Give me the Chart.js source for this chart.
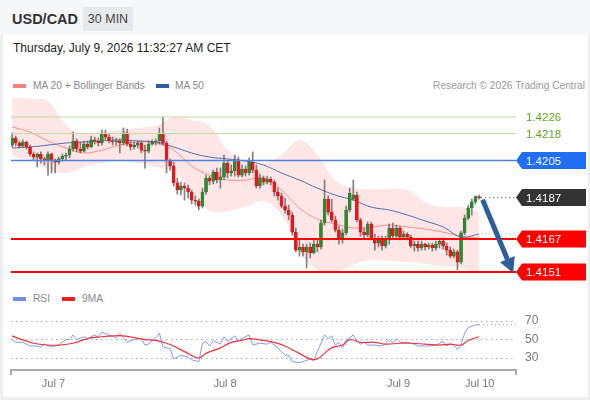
<!DOCTYPE html>
<html>
<head>
<meta charset="utf-8">
<script src="https://cdn.jsdelivr.net/npm/chart.js@4.4.1/dist/chart.umd.min.js"></script>
<style>
  body { margin: 0; width: 590px; height: 400px; overflow: hidden; background: #eceef0;
         font-family: "Liberation Sans", Arial, sans-serif; position: relative; }
  #card { position: absolute; left: 3px; top: 0; width: 585px; height: 397px; background: #fff; }
  #head { position: absolute; left: 0; top: 0; width: 590px; height: 35px; background: #f6f7f8; }
  #pair { position: absolute; left: 12px; top: 10px; font-size: 14.5px; line-height: 18px; font-weight: bold; color: #333; }
  #tf { position: absolute; left: 83px; top: 7px; width: 50px; height: 24px; line-height: 24px; text-align: center;
        background: #e8e9eb; font-size: 12.5px; color: #444; }
  #date { position: absolute; left: 13px; top: 40px; font-size: 12px; line-height: 16px; color: #222; }
  .leg { position: absolute; font-size: 10.2px; line-height: 12px; color: #888; white-space: nowrap; }
  .sw { position: absolute; width: 13px; height: 4px; }
  canvas { position: absolute; left: 0; }
</style>
</head>
<body>
<div id="card"></div>
<div id="head"></div>
<div id="pair">USD/CAD</div>
<div id="tf">30 MIN</div>
<div id="date">Thursday, July 9, 2026 11:32:27 AM CET</div>

<div class="sw" style="left:13px; top:84px; background:#f77f7f;"></div>
<div class="leg" style="left:33px; top:80px;">MA 20 + Bollinger Bands</div>
<div class="sw" style="left:156px; top:84px; background:#2f5fa3;"></div>
<div class="leg" style="left:175px; top:80px;">MA 50</div>
<div class="leg" style="right:5px; top:80px; color:#999;">Research © 2026 Trading Central</div>

<div class="sw" style="left:13px; top:297px; background:#6d8fe8;"></div>
<div class="leg" style="left:33px; top:293px;">RSI</div>
<div class="sw" style="left:62px; top:297px; background:#f01e1e;"></div>
<div class="leg" style="left:82px; top:293px;">9MA</div>

<canvas id="price" width="590" height="190" style="top:95px;"></canvas>
<canvas id="rsi" width="590" height="82" style="top:310px;"></canvas>

<script>
// 30 min candles, index 0 = first bar on the left
var opens = [1.42124,1.42158,1.42134,1.42120,1.42139,1.42115,1.42081,1.42066,1.42081,1.42057,
  1.42047,1.42081,1.42047,1.42042,1.42057,1.42071,1.42076,1.42105,1.42144,1.42105,
  1.42095,1.42129,1.42115,1.42149,1.42144,1.42134,1.42178,1.42163,1.42144,1.42139,
  1.42144,1.42134,1.42183,1.42129,1.42115,1.42124,1.42134,1.42100,1.42095,1.42129,
  1.42139,1.42144,1.42178,1.42134,1.42047,1.42023,1.41941,1.41907,1.41926,1.41916,
  1.41897,1.41858,1.41853,1.41829,1.41897,1.41965,1.41950,1.41994,1.41955,1.41970,
  1.42037,1.41989,1.41999,1.42052,1.41979,1.42008,1.41989,1.42042,1.42003,1.41926,
  1.41965,1.41945,1.41960,1.41945,1.41897,1.41878,1.41829,1.41810,1.41786,1.41703,
  1.41616,1.41631,1.41607,1.41631,1.41602,1.41645,1.41631,1.41747,1.41863,1.41800,
  1.41762,1.41713,1.41665,1.41699,1.41810,1.41863,1.41882,1.41762,1.41703,1.41689,
  1.41742,1.41674,1.41650,1.41665,1.41636,1.41665,1.41723,1.41684,1.41723,1.41679,
  1.41694,1.41679,1.41636,1.41645,1.41626,1.41645,1.41631,1.41640,1.41626,1.41645,
  1.41660,1.41636,1.41616,1.41587,1.41607,1.41558,1.41699,1.41771,1.41820,1.41849,
  1.41875];
var highs = [1.42183,1.42168,1.42144,1.42149,1.42144,1.42124,1.42091,1.42086,1.42091,1.42066,
  1.42091,1.42086,1.42057,1.42066,1.42081,1.42086,1.42120,1.42187,1.42154,1.42139,
  1.42144,1.42144,1.42168,1.42163,1.42158,1.42197,1.42197,1.42178,1.42163,1.42158,
  1.42154,1.42207,1.42202,1.42144,1.42139,1.42144,1.42144,1.42124,1.42144,1.42149,
  1.42154,1.42207,1.42260,1.42144,1.42057,1.42042,1.41965,1.41945,1.41941,1.41931,
  1.41907,1.41878,1.41863,1.41916,1.41979,1.41974,1.42003,1.42013,1.42013,1.42076,
  1.42052,1.42028,1.42076,1.42066,1.42028,1.42023,1.42062,1.42091,1.42028,1.41984,
  1.41974,1.41974,1.41970,1.41955,1.41916,1.41892,1.41868,1.41834,1.41800,1.41723,
  1.41665,1.41645,1.41645,1.41650,1.41665,1.41665,1.41762,1.41955,1.41878,1.41863,
  1.41781,1.41732,1.41718,1.41829,1.41916,1.41955,1.41897,1.41771,1.41723,1.41752,
  1.41752,1.41694,1.41684,1.41684,1.41684,1.41742,1.41747,1.41737,1.41732,1.41708,
  1.41699,1.41689,1.41660,1.41660,1.41660,1.41650,1.41650,1.41650,1.41660,1.41674,
  1.41674,1.41650,1.41631,1.41621,1.41616,1.41708,1.41786,1.41834,1.41863,1.41878,
  1.41882];
var lows = [1.42115,1.42120,1.42110,1.42115,1.42105,1.42071,1.42052,1.42018,1.42037,1.42028,
  1.41979,1.41989,1.41989,1.42032,1.42047,1.42052,1.42062,1.42095,1.42091,1.42086,
  1.42091,1.42105,1.42110,1.42129,1.42120,1.42124,1.42149,1.42134,1.42124,1.42124,
  1.42086,1.42124,1.42120,1.42100,1.42105,1.42110,1.42086,1.42013,1.42086,1.42124,
  1.42124,1.42129,1.42124,1.41989,1.42003,1.41926,1.41887,1.41882,1.41858,1.41868,
  1.41839,1.41834,1.41810,1.41820,1.41887,1.41931,1.41936,1.41941,1.41916,1.41955,
  1.41965,1.41974,1.41974,1.41970,1.41970,1.41974,1.41979,1.41989,1.41916,1.41916,
  1.41931,1.41936,1.41931,1.41878,1.41858,1.41820,1.41795,1.41762,1.41689,1.41607,
  1.41587,1.41587,1.41529,1.41578,1.41597,1.41607,1.41621,1.41737,1.41786,1.41752,
  1.41703,1.41645,1.41650,1.41689,1.41800,1.41858,1.41752,1.41684,1.41674,1.41679,
  1.41665,1.41616,1.41631,1.41616,1.41626,1.41645,1.41670,1.41670,1.41665,1.41670,
  1.41665,1.41626,1.41611,1.41611,1.41616,1.41616,1.41621,1.41611,1.41616,1.41626,
  1.41621,1.41592,1.41578,1.41578,1.41520,1.41549,1.41689,1.41762,1.41786,1.41839,
  1.41863];
var closes = [1.42158,1.42134,1.42120,1.42139,1.42115,1.42081,1.42066,1.42081,1.42057,1.42047,
  1.42081,1.42047,1.42042,1.42057,1.42071,1.42076,1.42105,1.42144,1.42105,1.42095,
  1.42129,1.42115,1.42149,1.42144,1.42134,1.42178,1.42163,1.42144,1.42139,1.42144,
  1.42134,1.42183,1.42129,1.42115,1.42124,1.42134,1.42100,1.42095,1.42129,1.42139,
  1.42144,1.42178,1.42134,1.42047,1.42023,1.41941,1.41907,1.41926,1.41916,1.41897,
  1.41858,1.41853,1.41829,1.41897,1.41965,1.41950,1.41994,1.41955,1.41970,1.42037,
  1.41989,1.41999,1.42052,1.41979,1.42008,1.41989,1.42042,1.42003,1.41926,1.41965,
  1.41945,1.41960,1.41945,1.41897,1.41878,1.41829,1.41810,1.41786,1.41703,1.41616,
  1.41631,1.41607,1.41631,1.41602,1.41645,1.41631,1.41747,1.41863,1.41800,1.41762,
  1.41713,1.41665,1.41699,1.41810,1.41892,1.41882,1.41762,1.41703,1.41689,1.41742,
  1.41674,1.41650,1.41665,1.41636,1.41665,1.41723,1.41684,1.41723,1.41679,1.41694,
  1.41679,1.41636,1.41645,1.41626,1.41645,1.41631,1.41640,1.41626,1.41645,1.41660,
  1.41636,1.41616,1.41587,1.41607,1.41558,1.41699,1.41771,1.41820,1.41849,1.41875,
  1.41870];

// indicator lines, sampled every 5 bars
var bandIdx = [0,5,10,15,20,25,30,35,40,45,50,55,60,65,70,75,80,85,90,95,100,105,110,115,120,125,130];
var ma20 = [1.42212,1.42187,1.42144,1.42110,1.42086,1.42100,1.42124,1.42139,1.42134,1.42100,1.42023,1.41979,1.41955,
  1.41955,1.41965,1.41907,1.41820,1.41766,1.41742,1.41723,1.41728,1.41737,1.41728,1.41718,1.41703,1.41684,1.41674];
var ma50 = [1.42110,1.42115,1.42124,1.42134,1.42139,1.42144,1.42149,1.42144,1.42139,1.42115,1.42086,1.42066,1.42057,
  1.42047,1.42028,1.41989,1.41955,1.41916,1.41882,1.41858,1.41824,1.41810,1.41786,1.41757,1.41728,1.41679,1.41694];
var bbUpper = [1.42352,1.42347,1.42337,1.42221,1.42178,1.42187,1.42197,1.42207,1.42216,1.42260,1.42245,1.42216,1.42100,
  1.42042,1.42037,1.42076,1.42149,1.42076,1.41955,1.41916,1.41912,1.41912,1.41907,1.41849,1.41824,1.41824,1.41800];
var bbLower = [1.42066,1.42052,1.42008,1.41989,1.42018,1.42037,1.42052,1.42037,1.42018,1.41994,1.41897,1.41805,1.41805,
  1.41824,1.41853,1.41786,1.41616,1.41520,1.41510,1.41544,1.41568,1.41563,1.41558,1.41549,1.41539,1.41529,1.41505];

// support / resistance levels shown on the right
var levelValues = [1.4226, 1.4218, 1.4205, 1.4187, 1.4167, 1.4151];
var arrowFrom = { x: 131, y: 1.41860 };
var arrowTo = { x: 139.5, y: 1.41505 };

// RSI panel
var rsiIdx = [0,1,3,5,7,8,9,11,13,15,16,17,18,20,21,23,24,25,27,29,30,32,34,36,37,38,40,41,42,44,
  45,47,49,50,52,53,54,55,56,58,59,60,62,63,64,66,67,69,71,72,74,76,77,78,80,81,83,84,85,87,
  88,89,90,91,92,93,95,96,97,98,99,101,103,104,105,106,107,108,110,112,113,115,116,118,120,121,
  122,123,124,125,126,127,129,130];
var rsiVal = [50,47,47,43,43,42,45,42,44,50,50,55,50,53,51,55,53,58,55,52,57,47,50,51,44,45,52,57,42,40,
  29,33,31,28,26,46,48,43,49,45,53,48,54,48,51,55,44,46,45,47,41,33,33,26,25,26,29,27,37,55,
  51,54,44,47,41,49,55,48,45,47,44,44,43,46,50,46,51,47,47,45,43,43,43,44,48,43,45,44,39,44,
  57,63,66,66];
var ma9Idx = [0,2,6,10,13,17,21,25,28,31,34,37,40,43,46,49,52,54,58,61,64,66,70,73,76,78,80,83,85,87,
  89,92,94,97,101,104,108,111,115,119,122,125,127,130];
var ma9Val = [54,51,46,44,44,46,51,53,54,54,52,50,49,46,41,35,30,35,41,47,49,51,49,47,43,39,35,29,29,35,
  41,44,50,47,47,45,46,46,45,44,45,44,49,53];
var rsiLevels = [30, 50, 70];

var dayTickIdx = [11.5, 59.3, 107.6, 130.2];
var dayTickLabels = ['Jul 7', 'Jul 8', 'Jul 9', 'Jul 10'];

var X_MIN = -0.3, X_MAX = 140.3;
var FONT = '"Liberation Sans", Arial, sans-serif';
Chart.defaults.font.family = FONT;

function pts(xs, ys) {
  return xs.map(function (x, i) { return { x: x, y: ys[i] }; });
}
function flat(v, from, to) {
  return [{ x: from, y: v }, { x: to, y: v }];
}
function hline(v, color, width, from, dash) {
  return { type: 'line', data: flat(v, from, X_MAX), borderColor: color, borderWidth: width,
           borderDash: dash || [], pointRadius: 0, order: 0 };
}

var levelLook = [
  { color: '#63a521', tag: false },
  { color: '#63a521', tag: false },
  { color: '#1f6ff0', tag: true },
  { color: '#333333', tag: true },
  { color: '#ff0000', tag: true },
  { color: '#ff0000', tag: true }
];

var levelTags = {
  id: 'levelTags',
  afterDatasetsDraw: function (chart) {
    var c = chart.ctx, sx = chart.scales.x, sy = chart.scales.y, a = chart.chartArea;
    c.save();
    c.font = '11.5px ' + FONT;
    c.textBaseline = 'middle';
    levelValues.forEach(function (v, i) {
      var py = sy.getPixelForValue(v);
      var look = levelLook[i];
      if (look.tag) {
        c.fillStyle = look.color;
        c.beginPath();
        c.moveTo(a.right, py);
        c.lineTo(a.right + 6, py - 8.5);
        c.lineTo(586, py - 8.5);
        c.lineTo(586, py + 8.5);
        c.lineTo(a.right + 6, py + 8.5);
        c.closePath();
        c.fill();
        c.fillStyle = '#fff';
      } else {
        c.fillStyle = look.color;
      }
      c.fillText(v.toFixed(4), a.right + 10, py + 1);
    });

    // forecast arrow
    var x1 = sx.getPixelForValue(arrowFrom.x), y1 = sy.getPixelForValue(arrowFrom.y);
    var x2 = sx.getPixelForValue(arrowTo.x), y2 = sy.getPixelForValue(arrowTo.y);
    var ang = Math.atan2(y2 - y1, x2 - x1), head = 15, half = 8;
    var bx = x2 - head * Math.cos(ang), by = y2 - head * Math.sin(ang);
    c.strokeStyle = '#2e5d9c';
    c.fillStyle = '#2e5d9c';
    c.lineWidth = 5;
    c.beginPath();
    c.moveTo(x1, y1);
    c.lineTo(bx, by);
    c.stroke();
    c.beginPath();
    c.moveTo(x2, y2);
    c.lineTo(bx + half * Math.sin(ang), by - half * Math.cos(ang));
    c.lineTo(bx - half * Math.sin(ang), by + half * Math.cos(ang));
    c.closePath();
    c.fill();
    c.restore();
  }
};

new Chart(document.getElementById('price').getContext('2d'), {
  type: 'bar',
  data: {
    datasets: [
      hline(levelValues[0], '#bcdca4', 1, X_MIN),
      hline(levelValues[1], '#bcdca4', 1, X_MIN),
      hline(levelValues[2], '#4f82e3', 1.5, X_MIN),
      hline(levelValues[3], '#555', 1, 130.6, [1, 3]),
      hline(levelValues[4], '#ff0000', 2, X_MIN),
      hline(levelValues[5], '#ff0000', 2, X_MIN),
      hline(ma50[ma50.length - 1], '#8aa6d8', 1, 130.6, [1, 3]),
      {
        type: 'bar',
        data: closes.map(function (c, i) { return { x: i, y: [opens[i], c] }; }),
        backgroundColor: function (ctx) {
          var i = ctx.dataIndex;
          return closes[i] >= opens[i] ? '#2f8a2f' : '#e8171c';
        },
        borderColor: function (ctx) {
          var i = ctx.dataIndex;
          return closes[i] >= opens[i] ? '#2a6b2a' : '#c8141a';
        },
        borderWidth: 0.5,
        borderSkipped: false,
        barThickness: 3,
        minBarLength: 1,
        grouped: false,
        order: 1
      },
      {
        type: 'bar',
        data: lows.map(function (l, i) { return { x: i, y: [l, highs[i]] }; }),
        backgroundColor: 'rgba(95,85,85,0.75)',
        barThickness: 1,
        grouped: false,
        order: 2
      },
      { type: 'line', data: pts(bandIdx, ma50), borderColor: '#4b6fae', borderWidth: 1,
        pointRadius: 0, tension: 0.4, order: 3 },
      { type: 'line', data: pts(bandIdx, ma20), borderColor: 'rgba(247,120,120,0.8)', borderWidth: 1,
        pointRadius: 0, tension: 0.4, order: 4 },
      { type: 'line', data: pts(bandIdx, bbUpper), borderWidth: 0, pointRadius: 0, tension: 0.4,
        fill: '+1', backgroundColor: 'rgba(252,200,200,0.45)', order: 5 },
      { type: 'line', data: pts(bandIdx, bbLower), borderWidth: 0, pointRadius: 0, tension: 0.4,
        fill: false, order: 6 }
    ]
  },
  options: {
    responsive: false,
    animation: false,
    layout: { padding: { left: 11, right: 74, top: 0, bottom: 0 } },
    plugins: { legend: { display: false }, tooltip: { enabled: false } },
    scales: {
      x: { type: 'linear', min: X_MIN, max: X_MAX, offset: false, display: false },
      y: { type: 'linear', min: 1.414471, max: 1.4236645, display: false }
    }
  },
  plugins: [levelTags]
});

new Chart(document.getElementById('rsi').getContext('2d'), {
  type: 'line',
  data: {
    datasets: [
      { data: pts(ma9Idx, ma9Val), borderColor: '#f2323a', borderWidth: 1.2, pointRadius: 0, tension: 0.4 },
      { data: pts(rsiIdx, rsiVal), borderColor: '#7f9df0', borderWidth: 1, pointRadius: 0, tension: 0 },
      { data: flat(rsiVal[rsiVal.length - 1], 130, X_MAX), borderColor: '#7f9df0', borderWidth: 1.2,
        borderDash: [1, 3], pointRadius: 0 }
    ]
  },
  options: {
    responsive: false,
    animation: false,
    layout: { padding: { left: 11, right: 0, top: 0, bottom: 0 } },
    plugins: { legend: { display: false }, tooltip: { enabled: false } },
    scales: {
      x: {
        type: 'linear', min: X_MIN, max: X_MAX,
        afterBuildTicks: function (s) {
          s.ticks = [{ value: X_MIN }].concat(dayTickIdx.map(function (v) { return { value: v }; }), [{ value: X_MAX }]);
        },
        afterFit: function (s) { s.height = 22; s.paddingLeft = 0; s.paddingRight = 0; },
        ticks: {
          autoSkip: false, maxRotation: 0, padding: 2, color: '#777', font: { size: 11 },
          callback: function (v) {
            var k = dayTickIdx.indexOf(v);
            return k >= 0 ? dayTickLabels[k] : '';
          }
        },
        grid: {
          drawOnChartArea: false, tickLength: 5, lineWidth: 2,
          color: function (ctx) {
            return (ctx.tick && (ctx.tick.value === X_MIN || ctx.tick.value === X_MAX)) ? '#aaa' : 'rgba(0,0,0,0)';
          }
        },
        border: { display: true, color: '#aaa', width: 2 }
      },
      y: {
        position: 'right', min: 17, max: 82,
        afterBuildTicks: function (s) {
          s.ticks = rsiLevels.map(function (v) { return { value: v }; });
        },
        // keep the label padding from shrinking the plot vertically
        afterFit: function (s) { s.width = 74; s.paddingTop = 0; s.paddingBottom = 0; },
        ticks: { color: '#777', font: { size: 12 }, padding: 9 },
        grid: { color: '#aaa', lineWidth: 1, drawTicks: false },
        border: { display: false, dash: [1.5, 3.5] }
      }
    }
  }
});
</script>
</body>
</html>
